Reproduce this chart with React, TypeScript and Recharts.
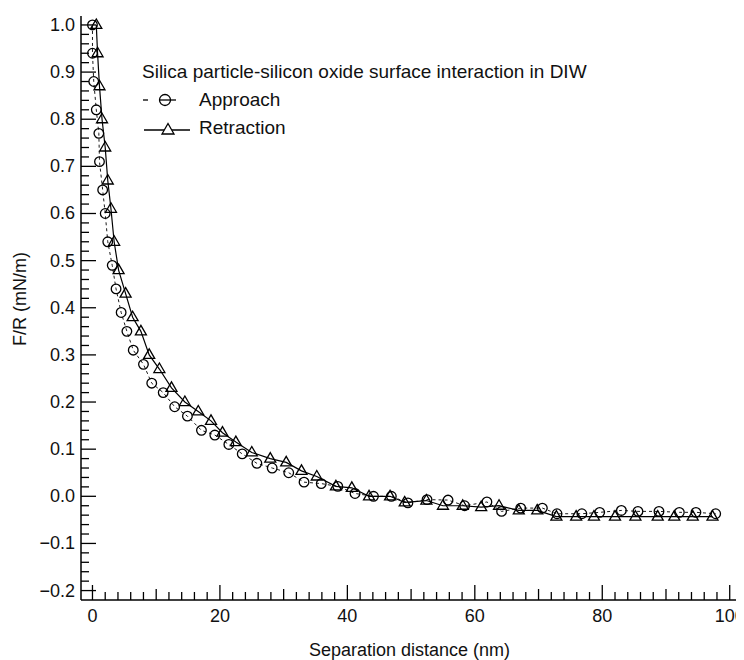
import React from 'react';
import { ComposedChart, Line, XAxis, YAxis, ReferenceLine } from 'recharts';

// Approach (open circles, dashed line)
const APPROACH_X = [0.0, 0.0, 0.2, 0.6, 1.0, 1.1, 1.6, 2.0, 2.4, 3.1, 3.7, 4.5, 5.4, 6.4, 8.0, 9.3, 11.1, 12.9, 14.9, 17.1, 19.2, 21.4, 23.5, 25.8, 28.2, 30.8, 33.2, 35.9, 38.5, 41.2, 44.1, 46.9, 49.5, 52.5, 55.8, 58.4, 61.9, 64.2, 67.2, 70.6, 72.9, 76.8, 79.6, 83.0, 85.6, 88.9, 92.1, 94.7, 97.8];
const APPROACH_Y = [1.0, 0.94, 0.88, 0.82, 0.77, 0.71, 0.65, 0.6, 0.54, 0.49, 0.44, 0.39, 0.35, 0.31, 0.28, 0.24, 0.22, 0.19, 0.17, 0.14, 0.13, 0.11, 0.09, 0.07, 0.06, 0.05, 0.03, 0.027, 0.021, 0.006, 0.0, 0.0, -0.014, -0.007, -0.008, -0.02, -0.012, -0.032, -0.025, -0.025, -0.037, -0.037, -0.034, -0.03, -0.032, -0.032, -0.034, -0.034, -0.037];

// Retraction (open triangles, solid line)
const RETRACTION_X = [0.6, 0.8, 1.1, 1.5, 2.0, 2.4, 2.9, 3.4, 4.1, 5.2, 6.3, 7.6, 8.9, 10.5, 12.4, 14.5, 16.6, 18.6, 20.4, 22.5, 25.0, 27.9, 30.4, 32.8, 35.2, 38.2, 40.7, 43.4, 46.7, 49.0, 52.4, 55.0, 58.1, 61.0, 63.8, 66.9, 69.8, 72.8, 75.9, 78.7, 82.0, 85.2, 88.7, 91.3, 94.2, 97.3];
const RETRACTION_Y = [1.0, 0.94, 0.87, 0.8, 0.74, 0.67, 0.61, 0.54, 0.48, 0.43, 0.38, 0.35, 0.3, 0.27, 0.23, 0.2, 0.18, 0.16, 0.135, 0.115, 0.093, 0.08, 0.072, 0.054, 0.042, 0.021, 0.018, 0.0, 0.0, -0.013, -0.009, -0.02, -0.02, -0.023, -0.02, -0.03, -0.03, -0.043, -0.043, -0.043, -0.043, -0.043, -0.043, -0.043, -0.043, -0.043];

const X_LABELS = [0, 20, 40, 60, 80, 100];
const Y_LABELS = [-0.2, -0.1, 0.0, 0.1, 0.2, 0.3, 0.4, 0.5, 0.6, 0.7, 0.8, 0.9, 1.0];

const TITLE = 'Silica particle-silicon oxide surface interaction in DIW';
const SERIES_NAMES = ['Approach', 'Retraction'];
const X_TITLE = 'Separation distance (nm)';
const Y_TITLE = 'F/R (mN/m)';

const approach = APPROACH_X.map((x, i) => ({ x, y: APPROACH_Y[i] }));
const retraction = RETRACTION_X.map((x, i) => ({ x, y: RETRACTION_Y[i] }));

// minor ticks every 2 nm / 0.02 mN/m
const xMinor = Array.from({ length: 51 }, (_, i) => i * 2);
const yMinor = Array.from({ length: 61 }, (_, i) => +(-0.2 + i * 0.02).toFixed(2));

const X_DOMAIN: [number, number] = [-1.8, 101.3];
const Y_DOMAIN: [number, number] = [-0.22, 1.019];

// plot box in pixels, used to turn tick lengths into data units
const PLOT_W = 657;
const PLOT_H = 585;
const X_PER_PX = (X_DOMAIN[1] - X_DOMAIN[0]) / PLOT_W;
const Y_PER_PX = (Y_DOMAIN[1] - Y_DOMAIN[0]) / PLOT_H;

const FONT = '"Liberation Sans", Arial, sans-serif';
const INK = '#111';

const fmtY = (v: number) => (v < 0 ? '\u2212' : '') + Math.abs(v).toFixed(1);
const isMajorY = (v: number) => Y_LABELS.some((l) => Math.abs(l - v) < 1e-6);

const XLabel = (props: any) => {
  const { x, y, payload } = props;
  return (
    <text x={x} y={y + 22} textAnchor="middle" fontSize={18} fontFamily={FONT} fill={INK}>
      {payload.value}
    </text>
  );
};

const YLabel = (props: any) => {
  const { x, y, payload } = props;
  return (
    <text x={x - 6} y={y + 6} textAnchor="end" fontSize={18} fontFamily={FONT} fill={INK}>
      {fmtY(payload.value)}
    </text>
  );
};

const YTitle = (props: any) => {
  const { viewBox } = props;
  const cy = viewBox.y + viewBox.height / 2 - 9;
  const cx = viewBox.x + 18;
  return (
    <text x={cx} y={cy} transform={`rotate(-90, ${cx}, ${cy})`} textAnchor="middle" fontSize={18} fontFamily={FONT} fill={INK}>
      {Y_TITLE}
    </text>
  );
};

const CircleDot = (props: any) => {
  const { cx, cy, index } = props;
  return <circle key={`c${index}`} cx={cx} cy={cy} r={4.8} fill="none" stroke="#000" strokeWidth={1.3} />;
};

const TriangleDot = (props: any) => {
  const { cx, cy, index } = props;
  const pts = `${cx},${cy - 6} ${cx - 5.5},${cy + 3.5} ${cx + 5.5},${cy + 3.5}`;
  return <polygon key={`t${index}`} points={pts} fill="none" stroke="#000" strokeWidth={1.3} />;
};

const LegendBox = () => (
  <div style={{ position: 'absolute', left: 134, top: 50, fontFamily: FONT, fontSize: 19, color: INK, lineHeight: '28px', whiteSpace: 'nowrap' }}>
    <div>{TITLE}</div>
    <div style={{ display: 'flex', alignItems: 'center', height: 28 }}>
      <svg width={57} height={20}>
        <line x1={1} y1={10} x2={6} y2={10} stroke="#000" strokeWidth={1.3} />
        <circle cx={23} cy={10} r={5.5} fill="none" stroke="#000" strokeWidth={1.3} />
        <line x1={17.5} y1={10} x2={28.5} y2={10} stroke="#000" strokeWidth={1.3} />
        <line x1={29} y1={10} x2={34} y2={10} stroke="#000" strokeWidth={1.3} />
      </svg>
      <span>{SERIES_NAMES[0]}</span>
    </div>
    <div style={{ display: 'flex', alignItems: 'center', height: 28 }}>
      <svg width={57} height={20}>
        <line x1={2} y1={12} x2={48} y2={12} stroke="#000" strokeWidth={1.3} />
        <polygon points="26,5.5 20,16 32,16" fill="#fff" stroke="#000" strokeWidth={1.3} />
      </svg>
      <span>{SERIES_NAMES[1]}</span>
    </div>
  </div>
);

// inward tick marks along the bottom and left axes
const xTickLines = xMinor.map((v) => {
  const px = X_LABELS.includes(v) ? 15 : v % 10 === 0 ? 11 : 8;
  return (
    <ReferenceLine
      key={`xt${v}`}
      segment={[{ x: v, y: Y_DOMAIN[0] }, { x: v, y: Y_DOMAIN[0] + px * Y_PER_PX }]}
      stroke="#000"
      strokeWidth={1.3}
      ifOverflow="visible"
    />
  );
});

const yTickLines = yMinor.map((v) => {
  const px = isMajorY(v) ? 15 : 8;
  return (
    <ReferenceLine
      key={`yt${v}`}
      segment={[{ x: X_DOMAIN[0], y: v }, { x: X_DOMAIN[0] + px * X_PER_PX, y: v }]}
      stroke="#000"
      strokeWidth={1.3}
      ifOverflow="visible"
    />
  );
});

export default function App() {
  return (
    <div style={{ position: 'relative', width: 736, height: 652 }}>
      <ComposedChart width={736} height={652} margin={{ top: 8, right: 6, bottom: 0, left: 0 }}>
        <XAxis
          type="number"
          dataKey="x"
          domain={X_DOMAIN}
          ticks={X_LABELS}
          interval={0}
          tick={XLabel}
          tickSize={0}
          tickMargin={0}
          tickLine={false}
          axisLine={{ stroke: '#000', strokeWidth: 1.5 }}
          height={60}
          allowDataOverflow
          label={{ value: X_TITLE, position: 'insideBottom', offset: 4, fontSize: 18, fontFamily: FONT, fill: INK }}
        />
        <YAxis
          type="number"
          dataKey="y"
          domain={Y_DOMAIN}
          ticks={Y_LABELS}
          interval={0}
          tick={YLabel}
          tickSize={0}
          tickMargin={0}
          tickLine={false}
          axisLine={{ stroke: '#000', strokeWidth: 1.5 }}
          width={73}
          allowDataOverflow
          label={{ content: YTitle }}
        />
        <XAxis xAxisId="top" orientation="top" type="number" domain={X_DOMAIN} tick={false} tickLine={false} axisLine={{ stroke: '#000', strokeWidth: 1.3 }} height={0} allowDataOverflow />
        <YAxis yAxisId="right" orientation="right" type="number" domain={Y_DOMAIN} tick={false} tickLine={false} axisLine={{ stroke: '#000', strokeWidth: 1.5 }} width={0} allowDataOverflow />
        {xTickLines}
        {yTickLines}
        <Line
          data={approach}
          dataKey="y"
          type="linear"
          stroke="#000"
          strokeWidth={0.9}
          strokeDasharray="3 3"
          dot={CircleDot}
          activeDot={false}
          isAnimationActive={false}
        />
        <Line
          data={retraction}
          dataKey="y"
          type="linear"
          stroke="#000"
          strokeWidth={1.2}
          dot={TriangleDot}
          activeDot={false}
          isAnimationActive={false}
        />
      </ComposedChart>
      <LegendBox />
    </div>
  );
}
